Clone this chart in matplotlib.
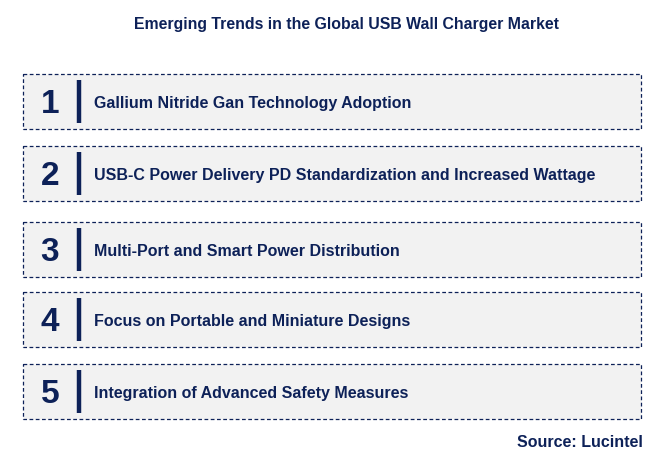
import matplotlib.pyplot as plt
from matplotlib.patches import Rectangle

numbers = ["1", "2", "3", "4", "5"]
trends = [
    "Gallium Nitride Gan Technology Adoption",
    "USB-C Power Delivery PD Standardization and Increased Wattage",
    "Multi-Port and Smart Power Distribution",
    "Focus on Portable and Miniature Designs",
    "Integration of Advanced Safety Measures",
]
box_tops = [75, 147, 223, 293, 365]

navy = "#0d2158"
fig = plt.figure(figsize=(6.66, 4.56), dpi=100)
ax = fig.add_axes([0, 0, 1, 1])
ax.set_xlim(0, 666)
ax.set_ylim(456, 0)
ax.axis("off")

ax.text(346, 24, "Emerging Trends in the Global USB Wall Charger Market",
        ha="center", va="center", fontsize=11.4, fontweight="bold", color=navy,
        family="Liberation Sans")

for num, label, top in zip(numbers, trends, box_tops):
    h = 55
    ax.add_patch(Rectangle((23, top), 618, h, facecolor="#f2f2f2",
                           edgecolor=navy, linestyle=(0, (3, 2)), linewidth=0.9))
    cy = top + h / 2
    ax.text(50, cy + 2, num, ha="center", va="center", fontsize=24,
            fontweight="bold", color=navy, family="Liberation Sans")
    ax.plot([79, 79], [top + 6, top + h - 6], color=navy, linewidth=3.2,
            solid_capstyle="butt")
    ax.text(94, cy + 1.5, label, ha="left", va="center", fontsize=11.5,
            fontweight="bold", color=navy, family="Liberation Sans")

ax.text(643, 443, "Source: Lucintel", ha="right", va="center", fontsize=11.5,
        fontweight="bold", color=navy, family="Liberation Sans")

fig.savefig("out.png", dpi=100)
